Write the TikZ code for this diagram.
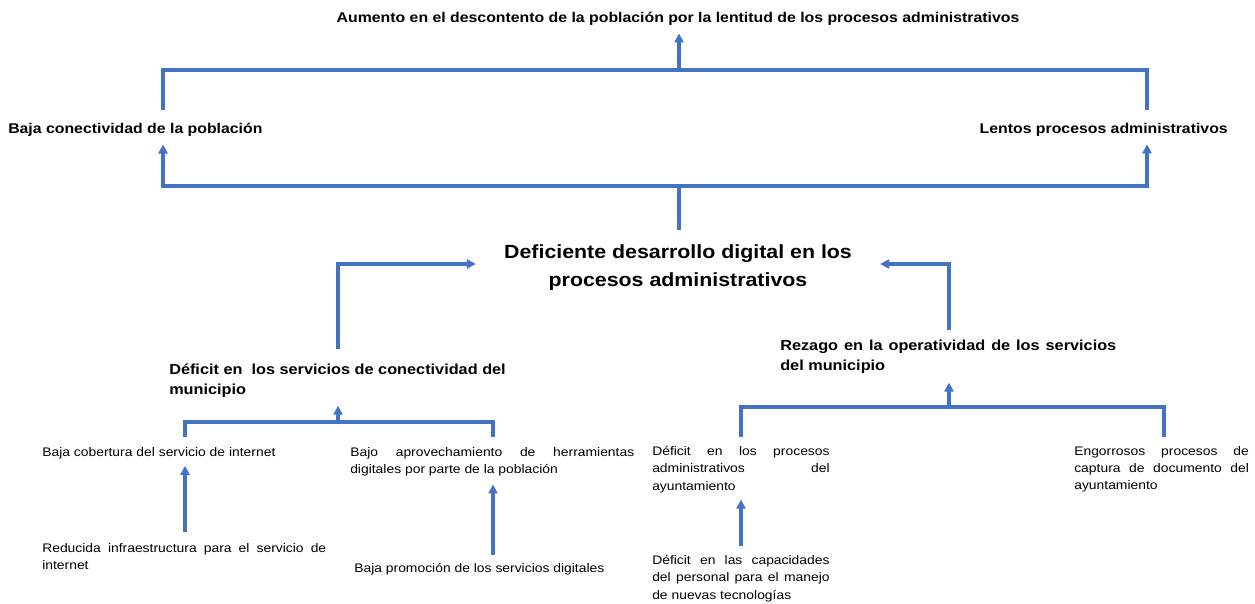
\documentclass[tikz,border=0pt]{standalone}
\usepackage{fontspec}
\setmainfont{Liberation Sans}[FakeStretch=1.12]
\usetikzlibrary{arrows.meta}
\hyphenpenalty=10000
\definecolor{linkblue}{RGB}{68,114,196}
\tikzset{
  effect/.style={font=\bfseries\fontsize{10.6}{13}\selectfont,inner sep=0pt},
  problem/.style={font=\bfseries\fontsize{14.3}{21.2}\selectfont,align=center,inner sep=0pt},
  cause/.style={font=\bfseries\fontsize{10.9}{14.6}\selectfont,inner sep=0pt},
  subcause/.style={font=\fontsize{9.3}{13}\selectfont,inner sep=0pt,align=justify},
  link/.style={draw=linkblue,line width=2.3pt},
  arr/.style={link,-{Triangle[length=6.8pt,width=6.8pt]}}
}

\begin{document}
\begin{tikzpicture}[x=0.75pt,y=-0.75pt]
  \useasboundingbox (0,0) rectangle (1255,603);

  % effects
  \node[effect,anchor=north] (aumento) at (678,12) {Aumento en el descontento de la población por la lentitud de los procesos administrativos};
  \node[effect,anchor=north west] (bajacon) at (8,123) {Baja conectividad de la población};
  \node[effect,anchor=north east] (lentos) at (1228,123) {Lentos procesos administrativos};

  % central problem
  \node[problem,anchor=north] (deficiente) at (678,244) {Deficiente desarrollo digital en los\\procesos administrativos};

  % causes
  \node[cause,anchor=north west,align=left] (defcon) at (169,364) {Déficit en\ \ los servicios de conectividad del\\municipio};
  \node[cause,anchor=north west,align=justify,text width=252pt] (rezago) at (780,340) {Rezago en la operatividad de los servicios\linebreak del municipio};

  % sub-causes, left
  \node[subcause,anchor=north west] (cobertura) at (42,447) {Baja cobertura del servicio de internet};
  \node[subcause,anchor=north west,text width=213pt] (aprovech) at (350,447) {Bajo aprovechamiento de herramientas\linebreak digitales por parte de la población};
  \node[subcause,anchor=north west,text width=213pt] (infra) at (42,543) {Reducida infraestructura para el servicio de\linebreak internet};
  \node[subcause,anchor=north west] (promocion) at (354,563) {Baja promoción de los servicios digitales};

  % sub-causes, right
  \node[subcause,anchor=north west,text width=133pt] (defproc) at (652,446) {Déficit en los procesos\linebreak administrativos del\linebreak ayuntamiento};
  \node[subcause,anchor=north west,text width=133pt] (capacidades) at (652,555) {Déficit en las capacidades\linebreak del personal para el manejo\linebreak de nuevas tecnologías};
  \node[subcause,anchor=north west,text width=131pt] (engorrosos) at (1074,446) {Engorrosos procesos de\linebreak captura de documento del\linebreak ayuntamiento};

  % junctions
  \coordinate (jtop) at (679,70);
  \coordinate (jtl) at (163,70);
  \coordinate (jtr) at (1147,70);
  \coordinate (jmid) at (679,186);
  \coordinate (jml) at (163,186);
  \coordinate (jmr) at (1147,186);
  \coordinate (jcl) at (338,264);
  \coordinate (jcr) at (949,264);
  \coordinate (jdl) at (338,422);
  \coordinate (jdll) at (185,422);
  \coordinate (jdlr) at (493,422);
  \coordinate (jdr) at (949,407);
  \coordinate (jdrl) at (741,407);
  \coordinate (jdrr) at (1164,407);

  % connectors
  \draw[arr,shorten >=5.7pt] (jtop) -- (jtop |- aumento.south);
  \draw[link,shorten <=9.75pt,shorten >=9.75pt] (jtl |- bajacon.north) -- (jtl) -- (jtr) -- (jtr |- lentos.north);
  \draw[arr,shorten >=5.7pt] (jmid) -- (jml) -- (jml |- bajacon.south);
  \draw[arr,shorten >=5.7pt] (jmid) -- (jmr) -- (jmr |- lentos.south);
  \draw[link,shorten >=10.5pt] (jmid) -- (jmid |- deficiente.north);
  \draw[arr,shorten <=11pt,shorten >=21pt] (jcl |- defcon.north) -- (jcl) -- (jcl -| deficiente.west);
  \draw[arr,shorten <=7.5pt,shorten >=21pt] (jcr |- rezago.north) -- (jcr) -- (jcr -| deficiente.east);
  \draw[arr,shorten >=6pt] (jdl) -- (jdl |- defcon.south);
  \draw[link,shorten <=7.5pt,shorten >=7.5pt] (jdll |- cobertura.north) -- (jdll) -- (jdlr) -- (jdlr |- aprovech.north);
  \draw[arr,shorten <=8pt,shorten >=5pt] (jdll |- infra.north) -- (jdll |- cobertura.south);
  \draw[arr,shorten <=6pt,shorten >=6pt] (jdlr |- promocion.north) -- (jdlr |- aprovech.south);
  \draw[arr,shorten >=6.75pt] (jdr) -- (jdr |- rezago.south);
  \draw[link,shorten <=7pt,shorten >=7pt] (jdrl |- defproc.north) -- (jdrl) -- (jdrr) -- (jdrr |- engorrosos.north);
  \draw[arr,shorten <=7pt,shorten >=5pt] (jdrl |- capacidades.north) -- (jdrl |- defproc.south);
\end{tikzpicture}
\end{document}
